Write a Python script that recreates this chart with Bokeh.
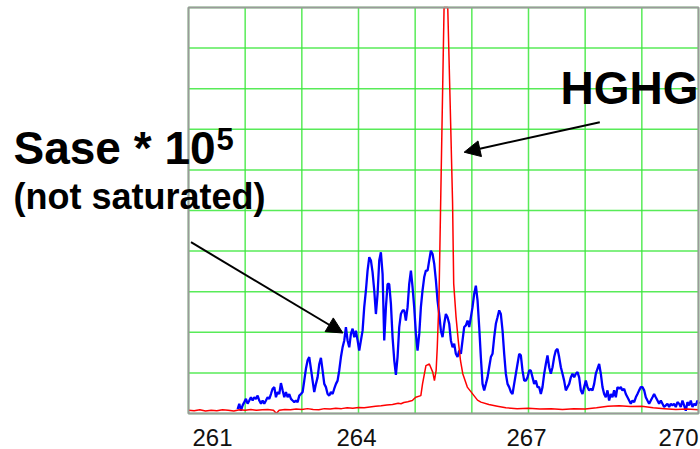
import numpy as np
from bokeh.plotting import figure
from bokeh.models import Label, Arrow, NormalHead, Range1d
from bokeh.embed import file_html
from bokeh.resources import INLINE

# ---------------- data ----------------
tick_values = [261, 264, 267, 270]
tick_labels = ["261", "264", "267", "270"]
grid_x = [261, 262, 263, 264, 265, 266, 267, 268, 269, 270]
grid_y = [0, 1, 2, 3, 4, 5, 6, 7, 8, 9, 10]

# SASE spectrum (x10^5), sampled on the spectrometer channel grid
sase_start_nm = 261.867
sase_step_nm = 0.0294
sase_values = [
    0.11, 0.24, 0.07, 0.20, 0.28, 0.36, 0.24, 0.32, 0.40, 0.32, 0.40, 0.36, 0.44, 0.32, 0.24, 0.32,
    0.24, 0.32, 0.40, 0.36, 0.48, 0.61, 0.65, 0.40, 0.53, 0.48, 0.75, 0.57, 0.40, 0.53, 0.40, 0.48,
    0.36, 0.32, 0.28, 0.32, 0.28, 0.44, 0.48, 0.53, 0.81, 1.10, 1.31, 1.39, 1.10, 0.81, 0.53, 0.73,
    0.89, 1.22, 1.37, 1.06, 0.73, 0.65, 0.48, 0.44, 0.53, 0.48, 0.61, 0.73, 0.81, 1.06, 1.39, 1.63,
    1.80, 2.13,
    1.80, 1.63, 1.96, 2.09, 1.88, 2.04, 1.80, 1.55, 1.80, 2.04, 2.62, 3.03, 3.52, 3.85, 3.77, 3.48,
    3.03, 2.45, 2.95, 3.77, 3.97, 3.44, 1.80, 2.62, 3.19, 3.19, 2.70, 1.88, 1.31, 0.95, 1.39, 2.13,
    2.45, 2.54, 2.54, 2.29, 2.62, 3.19, 3.52, 3.11, 2.62, 1.96, 1.55, 1.96, 2.62, 3.03, 3.36, 3.52,
    3.52, 3.77, 4.01, 3.93, 3.69, 3.28, 2.78, 2.45, 2.04, 1.88, 2.21, 2.45, 2.37, 2.21, 1.80, 1.63,
    1.72, 1.47, 1.39, 1.55, 1.47,
    1.80, 2.13, 2.17, 2.29, 2.13, 2.37, 2.62, 2.95, 3.15, 2.78, 2.13, 1.39, 0.73, 0.57, 0.73, 0.89,
    1.14, 1.39, 1.47, 1.88, 2.21, 2.37, 2.54, 2.45, 2.04, 1.47, 0.98, 0.73, 0.65, 0.53, 0.48, 0.73,
    0.98, 1.22, 1.47, 1.43, 1.06, 0.81, 0.81, 0.89, 1.06, 1.06, 0.89, 0.73, 0.81, 0.65, 0.65, 0.48,
    0.65, 0.98, 1.22, 1.43, 1.14, 0.98, 1.14, 1.39, 1.55, 1.59, 1.39, 1.14, 0.98, 0.81, 0.57, 0.65,
    0.73, 0.89, 0.98, 0.89, 0.98,
    1.02, 0.89, 0.57, 0.48, 0.65, 0.81, 0.65, 0.57, 0.61, 0.57, 0.73, 0.98, 1.10, 1.22, 0.98, 0.65,
    0.48, 0.40, 0.57, 0.32, 0.48, 0.40, 0.57, 0.40, 0.65, 0.61, 0.65, 0.57, 0.61, 0.48, 0.40, 0.32,
    0.24, 0.32, 0.28, 0.40, 0.48, 0.57, 0.65, 0.65, 0.57, 0.40, 0.32, 0.24, 0.32, 0.40, 0.48, 0.40,
    0.32, 0.24, 0.32, 0.24, 0.16, 0.20, 0.24, 0.16, 0.24, 0.20, 0.24, 0.16, 0.28, 0.24, 0.16, 0.32,
    0.20, 0.07, 0.28, 0.20, 0.32, 0.16, 0.24, 0.20, 0.32, 0.24,
]
sase_wl = [round(sase_start_nm + sase_step_nm * i, 3) for i in range(len(sase_values))]

# HGHG spectrum (peak runs off the top of the display)
hghg_wl = [
    261.0, 261.1, 261.2, 261.3, 261.4, 261.5, 261.6, 261.7, 261.8, 261.9,
    262.0, 262.1, 262.2, 262.3, 262.4, 262.5, 262.55, 262.6, 262.7, 262.8, 262.9,
    263.0, 263.1, 263.2, 263.3, 263.4, 263.5, 263.6, 263.7, 263.8, 263.9,
    264.0, 264.1, 264.2, 264.3, 264.4, 264.5, 264.6, 264.7, 264.75, 264.8, 264.87, 264.95,
    265.01, 265.1, 265.13, 265.19, 265.25, 265.31, 265.34, 265.37, 265.39, 265.42, 265.45,
    265.48, 265.51, 265.54, 265.575, 265.62, 265.66, 265.68, 265.72, 265.76, 265.8, 265.84,
    265.92, 266.01, 266.1, 266.16, 266.3, 266.45, 266.6, 266.8,
    267.0, 267.2, 267.4, 267.6, 267.8, 268.0, 268.2, 268.4, 268.6, 268.8,
    269.0, 269.2, 269.4, 269.6, 269.8, 270.0,
]
hghg_values = [
    0.08, 0.07, 0.09, 0.06, 0.08, 0.07, 0.09, 0.08, 0.06, 0.09,
    0.08, 0.10, 0.08, 0.09, 0.10, 0.08, 0.00, 0.08, 0.10, 0.09, 0.11,
    0.10, 0.12, 0.10, 0.09, 0.12, 0.11, 0.13, 0.12, 0.14, 0.13,
    0.15, 0.14, 0.16, 0.18, 0.19, 0.21, 0.22, 0.25, 0.24, 0.27, 0.29, 0.32,
    0.40, 0.44, 0.73, 1.18, 1.22, 1.02, 0.81, 1.06, 1.63, 2.80, 5.20,
    7.60, 10.0, 10.0, 10.0, 7.50, 5.20, 3.20, 2.40, 1.80, 1.30, 0.98,
    0.65, 0.49, 0.33, 0.28, 0.22, 0.18, 0.14, 0.12,
    0.13, 0.11, 0.12, 0.10, 0.12, 0.11, 0.14, 0.18, 0.19, 0.17,
    0.18, 0.14, 0.12, 0.10, 0.11, 0.09,
]

FONT = "Liberation Sans"
W, H = 700, 449
LEFT, RIGHT, TOP, BOTTOM = 188, 2, 7, 36   # margins around the plotting box (px)

x_lo, x_hi = grid_x[0], grid_x[-1]
y_lo, y_hi = grid_y[0], grid_y[-1]
xs = (x_hi - x_lo) / (W - LEFT - RIGHT)
ys = (y_hi - y_lo) / (H - TOP - BOTTOM)

# the frame fills the whole canvas so that the labels outside the box are not clipped
p = figure(
    width=W, height=H,
    x_range=Range1d(x_lo - LEFT * xs, x_hi + RIGHT * xs),
    y_range=Range1d(y_lo - BOTTOM * ys, y_hi + TOP * ys),
    output_backend="svg", toolbar_location=None,
    x_axis_location=None, y_axis_location=None,
    min_border=0, outline_line_color=None,
    background_fill_color="white", border_fill_color="white",
)
p.grid.visible = False

GRID = "#3be83b"
p.segment(x0=grid_x, y0=[y_lo] * len(grid_x), x1=grid_x, y1=[y_hi] * len(grid_x),
          line_color=GRID, line_width=1.5, line_alpha=0.85)
p.segment(x0=[x_lo] * len(grid_y), y0=grid_y, x1=[x_hi] * len(grid_y), y1=grid_y,
          line_color=GRID, line_width=1.5, line_alpha=0.85)

p.line(sase_wl, sase_values, line_color="#0000ff", line_width=2.3)
p.line(hghg_wl, hghg_values, line_color="#ff0000", line_width=1.5)

# box outline
p.quad(left=[x_lo], right=[x_hi], bottom=[y_lo], top=[y_hi],
       fill_color=None, line_color="#9a9a9a", line_width=2)

# tick labels (first/last kept inside the box, as in the original)
n = len(tick_values)
for i, (tv, tl) in enumerate(zip(tick_values, tick_labels)):
    align = "left" if i == 0 else ("right" if i == n - 1 else "center")
    off = 4 if i == 0 else (0 if i == n - 1 else -2)
    p.add_layout(Label(x=tv, y=y_lo - 23.5 * ys, text=tl, text_align=align, x_offset=off,
                       text_baseline="middle", text_font=FONT,
                       text_font_size="24px", text_color="#111111"))

# annotations (canvas pixel positions of the text centre lines)
def txt(x, y, s, size):
    p.add_layout(Label(x=x, y=y, x_units="canvas", y_units="canvas", text=s,
                       text_font=FONT, text_font_style="bold", text_font_size=size,
                       text_baseline="middle", text_color="black"))

txt(13, 147, "Sase * 10", "46px")
txt(216, 138, "5", "31px")
txt(13, 196, "(not saturated)", "36px")
txt(560, 87, "HGHG", "46px")

p.add_layout(Arrow(end=NormalHead(size=16, fill_color="black", line_color="black"),
                   x_start=268.258, y_start=7.175, x_end=265.864, y_end=6.436,
                   line_width=2, line_color="black"))
p.add_layout(Arrow(end=NormalHead(size=16, fill_color="black", line_color="black"),
                   x_start=261.044, y_start=4.219, x_end=263.725, y_end=1.983,
                   line_width=2, line_color="black"))

open("out.html", "w").write(file_html(p, INLINE))
